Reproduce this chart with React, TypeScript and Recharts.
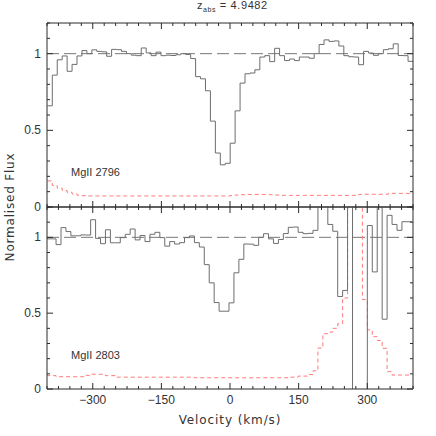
import { LineChart, Line, XAxis, YAxis, ReferenceLine } from "recharts";

// bin edges (km/s) of the two transitions, last value closes the final bin
const edges2796 = [
  -399.2, -388.4, -377.6, -366.8, -356.0, -345.2, -334.4, -323.6, -312.8, -302.0,
  -291.2, -280.4, -269.6, -258.8, -248.0, -237.2, -226.4, -215.6, -204.8, -194.0,
  -183.2, -172.4, -161.6, -150.8, -140.0, -129.2, -118.4, -107.6, -96.8, -86.0,
  -75.2, -64.4, -53.6, -42.8, -32.0, -21.2, -10.4, 0.4, 11.2, 22.0,
  32.8, 43.6, 54.4, 65.2, 76.0, 86.8, 97.6, 108.4, 119.2, 130.0,
  140.8, 151.6, 162.4, 173.2, 184.0, 194.8, 205.6, 216.4, 227.2, 238.0,
  248.8, 259.6, 270.4, 281.2, 292.0, 302.8, 313.6, 324.4, 335.2, 346.0,
  356.8, 367.6, 378.4, 389.2, 400.0,
];
const flux2796 = [
  0.66, 0.86, 0.96, 0.985, 0.885, 0.93, 0.985, 1.02, 1.0, 1.025,
  1.015, 1.012, 0.983, 1.028, 1.026, 1.015, 1.0, 0.99, 0.987, 1.037,
  1.005, 0.987, 1.01, 0.987, 0.99, 0.988, 0.993, 1.0, 0.995, 0.968,
  0.85, 0.836, 0.758, 0.56, 0.352, 0.275, 0.285, 0.416, 0.627, 0.808,
  0.869, 0.874, 0.895, 0.978, 0.987, 0.948, 1.035, 0.987, 0.955, 0.965,
  0.955, 0.978, 0.978, 0.97, 1.0, 1.06, 1.09, 1.08, 1.083, 1.05,
  0.987, 0.98, 0.978, 0.928, 1.015, 1.004, 0.989, 1.0, 1.026, 1.032,
  1.064, 0.988, 0.987, 0.95,
];
const err2796 = [
  0.17, 0.14, 0.122, 0.107, 0.096, 0.085, 0.077, 0.074, 0.072, 0.072,
  0.072, 0.072, 0.072, 0.072, 0.072, 0.072, 0.072, 0.072, 0.072, 0.072,
  0.072, 0.072, 0.072, 0.072, 0.072, 0.072, 0.072, 0.072, 0.072, 0.072,
  0.072, 0.072, 0.072, 0.072, 0.072, 0.072, 0.072, 0.074, 0.078, 0.08,
  0.082, 0.082, 0.082, 0.082, 0.082, 0.08, 0.078, 0.076, 0.076, 0.076,
  0.076, 0.076, 0.076, 0.076, 0.076, 0.076, 0.076, 0.076, 0.076, 0.076,
  0.076, 0.076, 0.076, 0.082, 0.083, 0.083, 0.083, 0.083, 0.083, 0.089,
  0.089, 0.089, 0.089, 0.089,
];

const edges2803 = [
  -401.8, -391.0, -380.2, -369.4, -358.6, -347.8, -337.0, -326.2, -315.4, -304.6,
  -293.8, -283.0, -272.2, -261.4, -250.6, -239.8, -229.0, -218.2, -207.4, -196.6,
  -185.8, -175.0, -164.2, -153.4, -142.6, -131.8, -121.0, -110.2, -99.4, -88.6,
  -77.8, -67.0, -56.2, -45.4, -34.6, -23.8, -13.0, -2.2, 8.6, 19.4,
  30.2, 41.0, 51.8, 62.6, 73.4, 84.2, 95.0, 105.8, 116.6, 127.4,
  138.2, 149.0, 159.8, 170.6, 181.4, 192.2, 203.0, 213.8, 224.6, 235.4,
  246.2, 257.0, 267.8, 278.6, 289.4, 300.2, 311.0, 321.8, 332.6, 343.4,
  354.2, 365.0, 375.8, 386.6, 397.4,
];
const flux2803 = [
  0.99, 0.99, 0.952, 1.064, 1.038, 1.01, 1.01, 1.016, 1.015, 1.116,
  0.993, 0.958, 1.05, 0.964, 0.964, 0.998, 1.02, 1.055, 0.983, 1.012,
  0.972, 1.02, 1.033, 0.998, 0.942, 0.972, 0.956, 0.965, 0.998, 1.009,
  0.965, 0.936, 0.82, 0.7, 0.57, 0.513, 0.513, 0.568, 0.766, 0.855,
  0.956, 0.955, 0.947, 1.0, 1.024, 0.99, 0.96, 0.986, 1.025, 1.066,
  1.068, 1.033, 1.024, 1.026, 1.046, 1.6, 1.6, 1.085, 1.04, 0.61,
  0.65, 1.6, -0.4, -0.4, -0.4, 1.078, 0.772, 1.6, 0.46, 1.145,
  1.085, 1.046, 1.103, 1.103,
];
const err2803 = [
  0.088, 0.088, 0.081, 0.081, 0.081, 0.081, 0.081, 0.081, 0.09, 0.097,
  0.097, 0.097, 0.088, 0.088, 0.078, 0.078, 0.078, 0.078, 0.078, 0.078,
  0.078, 0.078, 0.078, 0.078, 0.078, 0.078, 0.078, 0.078, 0.078, 0.078,
  0.074, 0.074, 0.074, 0.074, 0.074, 0.074, 0.074, 0.074, 0.074, 0.074,
  0.074, 0.074, 0.074, 0.074, 0.074, 0.074, 0.074, 0.074, 0.074, 0.078,
  0.078, 0.085, 0.085, 0.095, 0.12, 0.27, 0.365, 0.375, 0.4, 0.43,
  0.6, 1.6, 1.6, 1.6, 0.59, 0.39, 0.345, 0.32, 0.268, 0.114,
  0.092, 0.092, 0.092, 0.092,
];

const velocityLabels = [-300, -150, 0, 150, 300];
const velocityTicks = [
  -400, -375, -350, -325, -300, -275, -250, -225, -200, -175, -150, -125, -100, -75, -50, -25,
  0, 25, 50, 75, 100, 125, 150, 175, 200, 225, 250, 275, 300, 325, 350, 375, 400,
];
const fluxLabels = [0, 0.5, 1];
const fluxTicks = [0, 0.1, 0.2, 0.3, 0.4, 0.5, 0.6, 0.7, 0.8, 0.9, 1, 1.1, 1.2];
const continuum = 1;

const AXIS = "#2b2b2b";
const HIST = "#6e6e6e";
const ERR = "#ff7a7a";
const TICK_FONT = "Liberation Sans";

const fmtVel = (v: number) => (v < 0 ? "\u2212" + Math.abs(v) : String(v));

function makeRows(edges: number[], flux: number[], err: number[]) {
  return edges.map((v, i) => {
    const k = Math.min(i, flux.length - 1);
    return { v, f: flux[k], e: err[k] };
  });
}

function XTick(props: any) {
  const { x, y, payload, side, labels } = props;
  const v = payload.value;
  const major = v % 150 === 0;
  const len = major ? 6 : 3;
  const dir = side === "bottom" ? -1 : 1;
  return (
    <g>
      <line x1={x} x2={x} y1={y} y2={y + dir * len} stroke={AXIS} strokeWidth={1} />
      {labels && velocityLabels.includes(v) && (
        <text x={x} y={y + 15} textAnchor="middle" fontFamily={TICK_FONT} fontSize={12} fill="#333">
          {fmtVel(v)}
        </text>
      )}
    </g>
  );
}

function YTick(props: any) {
  const { x, y, payload, side } = props;
  const v = payload.value;
  const major = fluxLabels.includes(v);
  const len = major ? 6 : 3;
  const dir = side === "left" ? 1 : -1;
  return (
    <g>
      <line x1={x} x2={x + dir * len} y1={y} y2={y} stroke={AXIS} strokeWidth={1} />
      {side === "left" && major && (
        <text x={x - 6} y={y + 4} textAnchor="end" fontFamily={TICK_FONT} fontSize={12} fill="#333">
          {String(v)}
        </text>
      )}
    </g>
  );
}

function Panel({
  rows,
  name,
  height,
  margin,
  bottomHeight,
  labels,
}: {
  rows: { v: number; f: number; e: number }[];
  name: string;
  height: number;
  margin: { top: number; right: number; bottom: number; left: number };
  bottomHeight: number;
  labels: boolean;
}) {
  return (
    <LineChart width={436} height={height} data={rows} margin={margin}>
      <XAxis
        xAxisId="b"
        dataKey="v"
        type="number"
        domain={[-400, 400]}
        allowDataOverflow
        ticks={velocityTicks}
        interval={0}
        tickSize={0}
        tickMargin={0}
        height={bottomHeight}
        axisLine={{ stroke: AXIS }}
        tick={(p: any) => <XTick {...p} side="bottom" labels={labels} />}
      />
      <XAxis
        xAxisId="t"
        orientation="top"
        dataKey="v"
        type="number"
        domain={[-400, 400]}
        allowDataOverflow
        ticks={velocityTicks}
        interval={0}
        tickSize={0}
        tickMargin={0}
        height={10}
        axisLine={{ stroke: AXIS }}
        tick={(p: any) => <XTick {...p} side="top" labels={false} />}
      />
      <YAxis
        yAxisId="l"
        type="number"
        domain={[0, 1.2]}
        allowDataOverflow
        ticks={fluxTicks}
        interval={0}
        tickSize={0}
        tickMargin={0}
        width={40}
        axisLine={{ stroke: AXIS }}
        tick={(p: any) => <YTick {...p} side="left" />}
      />
      <YAxis
        yAxisId="r"
        orientation="right"
        type="number"
        domain={[0, 1.2]}
        allowDataOverflow
        ticks={fluxTicks}
        interval={0}
        tickSize={0}
        tickMargin={0}
        width={10}
        axisLine={{ stroke: AXIS }}
        tick={(p: any) => <YTick {...p} side="right" />}
      />
      <ReferenceLine xAxisId="b" yAxisId="l" y={continuum} stroke="#777" strokeDasharray="12 5" />
      <Line
        xAxisId="t"
        yAxisId="r"
        dataKey="e"
        type="stepAfter"
        stroke={ERR}
        strokeWidth={1}
        strokeDasharray="4 3"
        dot={false}
        isAnimationActive={false}
      />
      <Line
        xAxisId="b"
        yAxisId="l"
        dataKey="f"
        name={name}
        type="stepAfter"
        stroke={HIST}
        strokeWidth={1}
        dot={false}
        isAnimationActive={false}
      />
    </LineChart>
  );
}

const textStyle: React.CSSProperties = {
  position: "absolute",
  fontFamily: "DejaVu Sans",
  color: "#333",
  whiteSpace: "nowrap",
  lineHeight: 1,
};

export default function App() {
  const rows2796 = makeRows(edges2796, flux2796, err2796);
  const rows2803 = makeRows(edges2803, flux2803, err2803);
  return (
    <div style={{ position: "absolute", left: 0, top: 0, width: 436, height: 436, background: "#fff" }}>
      <div style={{ position: "absolute", left: 0, top: 0 }}>
        <Panel
          rows={rows2796}
          name="MgII 2796"
          height={230}
          margin={{ top: 13, right: 13, bottom: 13, left: 7 }}
          bottomHeight={10}
          labels={false}
        />
      </div>
      <div style={{ position: "absolute", left: 0, top: 184 }}>
        <Panel
          rows={rows2803}
          name="MgII 2803"
          height={252}
          margin={{ top: 13, right: 13, bottom: 17, left: 7 }}
          bottomHeight={30}
          labels={true}
        />
      </div>
      <div style={{ ...textStyle, left: 197, top: 0, fontSize: 11, fontFamily: TICK_FONT, letterSpacing: 0.6 }}>
        z<sub style={{ fontSize: 7 }}>abs</sub> = 4.9482
      </div>
      <div style={{ ...textStyle, left: 71, top: 167, fontSize: 11, fontFamily: TICK_FONT }}>MgII 2796</div>
      <div style={{ ...textStyle, left: 71, top: 350, fontSize: 11, fontFamily: TICK_FONT }}>MgII 2803</div>
      <div
        style={{
          ...textStyle,
          left: 10,
          top: 207,
          fontSize: 12,
          letterSpacing: 0.8,
          transform: "translate(-50%, -50%) rotate(-90deg)",
        }}
      >
        Normalised Flux
      </div>
      <div style={{ ...textStyle, left: 230, top: 414, fontSize: 12, letterSpacing: 0.9, transform: "translateX(-50%)" }}>
        Velocity (km/s)
      </div>
    </div>
  );
}
